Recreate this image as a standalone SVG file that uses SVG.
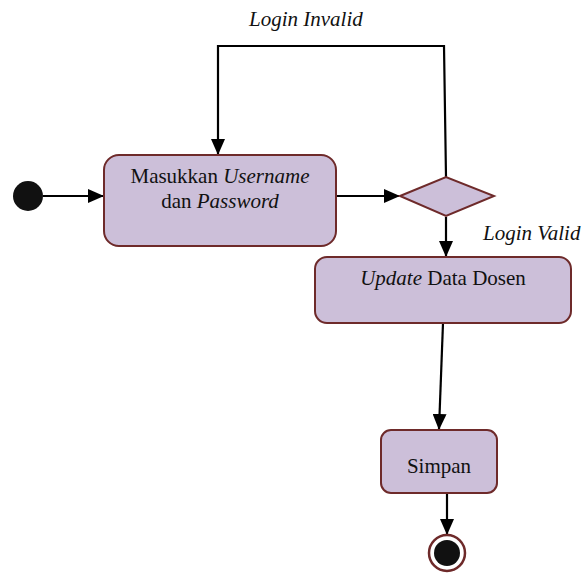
<svg xmlns="http://www.w3.org/2000/svg" width="587" height="574" viewBox="0 0 587 574">
<style>
.node{fill:#CCBFD9;stroke:#6E2A2A;stroke-width:2}
.t{font-family:"Liberation Serif","Times New Roman",serif;font-size:21px;fill:#111}
.i{font-style:italic}
.c{fill:none;stroke:#000;stroke-width:2.2}
</style>
<defs>
<marker id="ah" markerWidth="16" markerHeight="14" refX="15" refY="7" orient="auto" markerUnits="userSpaceOnUse">
<path d="M0,0 L16,7 L0,14 Z" fill="#000"/>
</marker>
</defs>
<rect width="587" height="574" fill="#fff"/>
<g id="connectors">
<line class="c" x1="43" y1="196" x2="103" y2="196" marker-end="url(#ah)"/>
<line class="c" x1="337" y1="196" x2="399" y2="196" marker-end="url(#ah)"/>
<polyline class="c" points="446,177 444,46 218,46 218,154" marker-end="url(#ah)"/>
<line class="c" x1="446" y1="217" x2="446" y2="256" marker-end="url(#ah)"/>
<line class="c" x1="443" y1="323" x2="439" y2="429" marker-end="url(#ah)"/>
<line class="c" x1="447" y1="494" x2="447" y2="534" marker-end="url(#ah)"/>
<text class="t i" x="249" y="26">Login Invalid</text>
<text class="t i" x="483" y="240">Login Valid</text>
</g>
<g id="start"><circle cx="28" cy="196" r="15" fill="#111"/></g>
<g id="masukkan">
<rect class="node" x="104" y="155" width="232" height="91" rx="15"/>
<text class="t" x="220" y="183" text-anchor="middle">Masukkan <tspan class="i">Username</tspan></text>
<text class="t" x="220" y="208" text-anchor="middle">dan <tspan class="i">Password</tspan></text>
</g>
<g id="decision"><polygon class="node" points="400,196 446,177 494,196 446,216"/></g>
<g id="update">
<rect class="node" x="315" y="257" width="256" height="66" rx="12"/>
<text class="t" x="443" y="285" text-anchor="middle"><tspan class="i">Update</tspan> Data Dosen</text>
</g>
<g id="simpan">
<rect class="node" x="381" y="430" width="116" height="63" rx="10"/>
<text class="t" x="439" y="473" text-anchor="middle">Simpan</text>
</g>
<g id="end">
<circle cx="447" cy="553" r="18" fill="#fff" stroke="#6E2A2A" stroke-width="2.5"/>
<circle cx="447" cy="553" r="13" fill="#111"/>
</g>
</svg>
